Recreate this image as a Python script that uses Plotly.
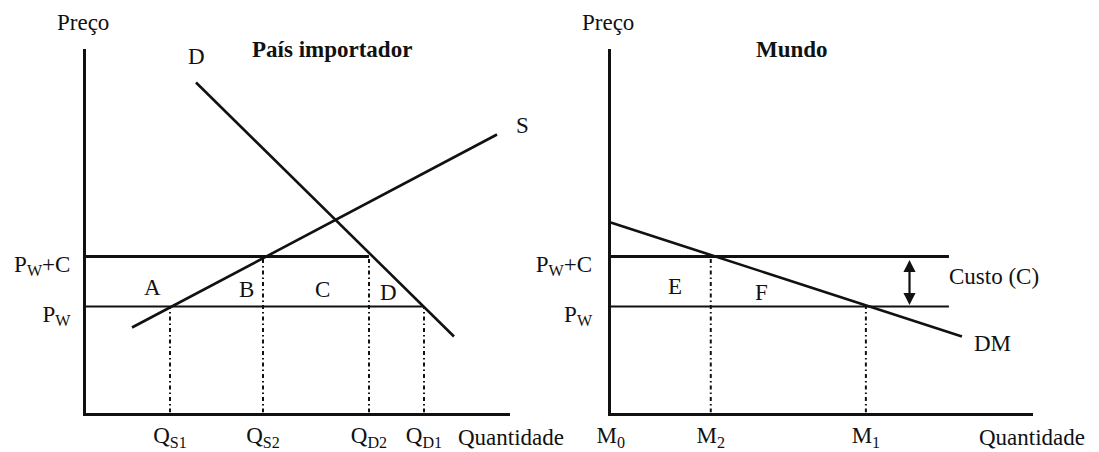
import plotly.graph_objects as go

# The page body has an 8px margin, so the figure is drawn 8px in from the
# window's top-left corner; positions below are given in window pixels.
WIN_W, WIN_H = 1099, 452
OFF = 8
W, H = WIN_W - OFF, WIN_H - OFF
FONT = "Liberation Serif"
BLACK = "#111111"
FS = 23

# ---------------- data ----------------
PW = 10.6                 # world price
C = 5.0                   # cost
PWC = PW + C              # world price + cost

# Left panel: importing country
Q_S1, Q_S2, Q_D2, Q_D1 = 8.4, 17.7, 28.3, 33.8
S_q = [4.6, 41.1]
S_p = [8.5, 27.8]
D_q = [11.0, 36.8]
D_p = [33.0, 7.6]
left_q_ticks = [Q_S1, Q_S2, Q_D2, Q_D1]
left_q_labels = ["Q<sub>S1</sub>", "Q<sub>S2</sub>", "Q<sub>D2</sub>", "Q<sub>D1</sub>"]

# Right panel: world
M0, M2, M1 = 0.0, 10.0, 25.5
DM_q = [0.0, 35.1]
DM_p = [19.0, 7.6]
world_line_end = 33.8
world_q_ticks = [M0, M2, M1]
world_q_labels = ["M<sub>0</sub>", "M<sub>2</sub>", "M<sub>1</sub>"]

price_ticks = [PW, PWC]
price_labels = ["P<sub>W</sub>", "P<sub>W</sub>+C"]

left_q_max = 42.4
right_q_max = 42.2
p_max = 36.4

# ---------------- figure ----------------
def fx(px):
    return (px - OFF) / W

def fy(py):
    return 1 - (py - OFF) / H

fig = go.Figure()

def line(xs, ys, ax, width=2.5, dash=None):
    fig.add_trace(go.Scatter(
        x=xs, y=ys, mode="lines", xaxis=ax[0], yaxis=ax[1],
        line=dict(color=BLACK, width=width, dash=dash),
        hoverinfo="skip", showlegend=False))

L = ("x", "y")
R = ("x2", "y2")
DASH = "4px,3px,1.5px,3px"

# left panel
line([0, Q_D2], [PWC, PWC], L, width=3)
line([0, Q_D1], [PW, PW], L, width=2.2)
line(S_q, S_p, L, width=2.6)
line(D_q, D_p, L, width=2.6)
line([Q_S1, Q_S1], [0, PW], L, width=2, dash=DASH)
line([Q_S2, Q_S2], [0, PWC], L, width=2, dash=DASH)
line([Q_D2, Q_D2], [0, PWC], L, width=2, dash=DASH)
line([Q_D1, Q_D1], [0, PW], L, width=2, dash=DASH)

# right panel
line([0, world_line_end], [PWC, PWC], R, width=3)
line([0, world_line_end], [PW, PW], R, width=2.2)
line(DM_q, DM_p, R, width=2.6)
line([M2, M2], [0, PWC], R, width=2, dash=DASH)
line([M1, M1], [0, PW], R, width=2, dash=DASH)

tickfont = dict(family=FONT, size=FS, color=BLACK)
ydom = [fy(412.5), fy(48.5)]

common_x = dict(showgrid=False, zeroline=False, showline=True, linecolor=BLACK,
                linewidth=3, ticks="", tickfont=tickfont, fixedrange=True,
                automargin=False)
common_y = dict(showgrid=False, zeroline=False, showline=True, linecolor=BLACK,
                linewidth=3, ticks="outside", tickcolor="rgba(0,0,0,0)",
                tickfont=tickfont, range=[0, p_max], domain=ydom, fixedrange=True,
                automargin=False, ticklabelshift=7)

fig.update_layout(
    template="none",
    width=W, height=H, autosize=False,
    margin=dict(l=0, r=0, t=0, b=0, pad=0),
    paper_bgcolor="white", plot_bgcolor="white",
    font=dict(family=FONT, size=FS, color=BLACK),
    xaxis=dict(common_x, domain=[fx(86), fx(510)], range=[0, left_q_max],
               tickvals=left_q_ticks, ticktext=left_q_labels, anchor="y"),
    yaxis=dict(common_y, ticklen=8, tickvals=price_ticks, ticktext=price_labels, anchor="x"),
    xaxis2=dict(common_x, domain=[fx(610.7), fx(1033)], range=[0, right_q_max],
                tickvals=world_q_ticks, ticktext=world_q_labels, anchor="y2"),
    yaxis2=dict(common_y, ticklen=11, tickvals=price_ticks, ticktext=price_labels, anchor="x2"),
)

def note(text, x, y, ax, **kw):
    fig.add_annotation(text=text, x=x, y=y, xref=ax[0], yref=ax[1],
                       showarrow=False, xanchor="center", yanchor="middle",
                       font=dict(family=FONT, size=FS, color=BLACK), **kw)

def pnote(text, px, py, **kw):
    fig.add_annotation(text=text, x=fx(px), y=fy(py), xref="paper", yref="paper",
                       showarrow=False, xanchor="center", yanchor="middle",
                       font=dict(family=FONT, size=FS, color=BLACK), **kw)

# left panel labels
pnote("Preço", 83, 23)
note("<b>País importador</b>", 24.55, 36.3, L)
note("D", 11.07, 35.6, L)
pnote("S", 522, 126)
note("A", 6.67, 12.55, L)
note("B", 16.0, 12.35, L)
note("C", 23.67, 12.32, L)
note("D", 30.2, 11.98, L)
pnote("Quantidade", 511, 437)

# right panel labels
pnote("Preço", 608, 23)
note("<b>Mundo</b>", 18.13, 36.3, R)
note("E", 6.43, 12.65, R)
note("F", 15.03, 12.05, R)
note("Custo (C)", 38.33, 13.65, R)
note("DM", 38.18, 6.95, R)
pnote("Quantidade", 1032, 437)

# double-headed cost arrow
fig.add_annotation(x=29.86, y=15.25, ax=29.86, ay=10.6, xref="x2", yref="y2",
                   axref="x2", ayref="y2", text="", showarrow=True,
                   arrowhead=2, arrowside="end+start", arrowsize=1.1,
                   arrowwidth=2.2, arrowcolor=BLACK)

fig.write_html("out.html")
